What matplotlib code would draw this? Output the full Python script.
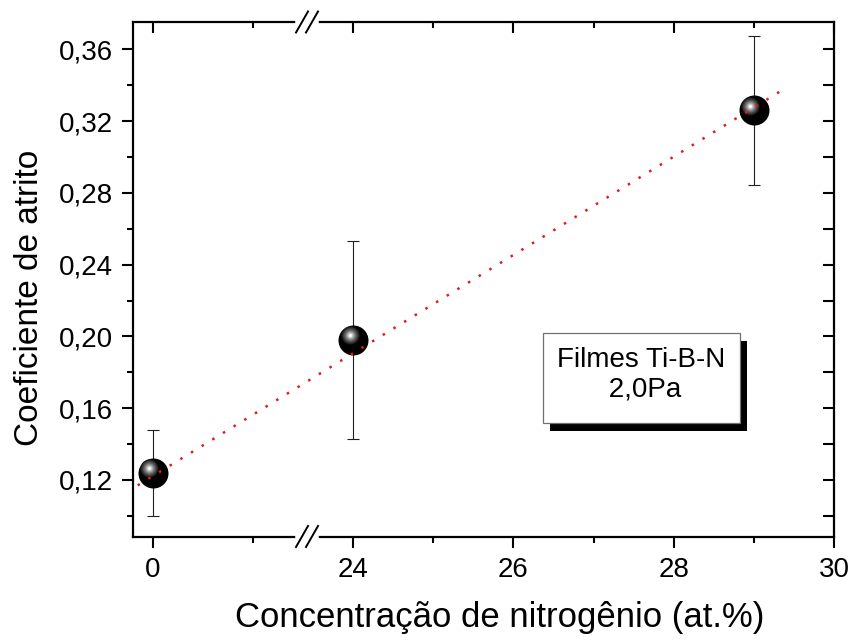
import numpy as np
import matplotlib
matplotlib.use("Agg")
import matplotlib.pyplot as plt
from matplotlib import transforms
from matplotlib.patches import Rectangle
import matplotlib.patheffects as pe

# ---- data ----
conc = [0, 24, 29]
coef = [0.124, 0.198, 0.326]
coef_err = [0.024, 0.055, 0.0415]
fit_x = [-0.15, 29.4]
fit_y = [0.117, 0.3385]

x_major = [0, 24, 26, 28, 30]
x_major_labels = ["0", "24", "26", "28", "30"]
x_minor = [1, 25, 27, 29]
y_major = [0.12, 0.16, 0.20, 0.24, 0.28, 0.32, 0.36]
y_major_labels = ["0,12", "0,16", "0,20", "0,24", "0,28", "0,32", "0,36"]
y_minor = [0.10, 0.14, 0.18, 0.22, 0.26, 0.30, 0.34]

xlabel = "Concentração de nitrogênio (at.%)"
ylabel = "Coeficiente de atrito"
box_text = "Filmes Ti-B-N\n 2,0Pa"

plt.rcParams['font.family'] = ['Liberation Sans', 'DejaVu Sans']

# broken-axis scale (piecewise linear)
BX = [-100.0, 1.53, 23.56, 100.0]
BU = [-10000.0, 153.0, 164.8, 6280.0]
def fwd(x):
    return np.interp(np.asarray(x, float), BX, BU)
def inv(u):
    return np.interp(np.asarray(u, float), BU, BX)

W, H = 853.0, 640.0
L, R, T, B = 132.7, 834.0, 22.0, 536.5
fig = plt.figure(figsize=(8.53, 6.4), dpi=100)
ax = fig.add_axes([L / W, (H - B) / H, (R - L) / W, (B - T) / H])
ax.set_xscale('function', functions=(fwd, inv))
ax.set_xlim(-0.2, 30.0)
ax.set_ylim(0.0885, 0.3752)

# error bars
ax.errorbar(conc, coef, yerr=coef_err, fmt='none', ecolor='#202020',
            elinewidth=0.8, capsize=4, capthick=0.8, zorder=3)
# spheres
ax.scatter(conc, coef, s=(30 * 0.72) ** 2, color='black', zorder=4, linewidths=0)
hl = transforms.offset_copy(ax.transData, fig=fig, x=-3.5, y=4.5, units='dots')
for d, c in [(18, '#1e1e1e'), (16, '#333333'), (14, '#4a4a4a'), (12, '#636363'),
             (10, '#7e7e7e'), (8, '#9c9c9c'), (6, '#bdbdbd'), (4, '#e0e0e0'),
             (2.5, '#ffffff')]:
    ax.scatter(conc, coef, s=(d * 0.72) ** 2, color=c, zorder=5, linewidths=0,
               transform=hl)
# fit line
ax.plot(fit_x, fit_y, color='#e41a1a', lw=1.8, linestyle=(0, (1, 4)), zorder=6)

# ticks
ax.set_xticks(x_major)
ax.set_xticklabels(x_major_labels)
ax.set_xticks(x_minor, minor=True)
ax.set_yticks(y_major)
ax.set_yticklabels(y_major_labels)
ax.set_yticks(y_minor, minor=True)
ax.tick_params(which='both', direction='out', width=1.5, labelsize=20,
               top=False, right=False)
ax.tick_params(which='major', length=8)
ax.tick_params(which='minor', length=4.5)
ax.tick_params(axis='x', which='both', pad=6.5)
ax.tick_params(axis='y', which='both', pad=6)
for s in ax.spines.values():
    s.set_linewidth(1.6)

ax.set_xlabel(xlabel, fontsize=25, labelpad=13, x=(500 - L) / (R - L))
ax.set_ylabel(ylabel, fontsize=24, labelpad=10, y=(B - 297.5) / (B - T))

# top ticks (inward)
axt = ax.twiny()
axt.set_xscale('function', functions=(fwd, inv))
axt.set_xlim(ax.get_xlim())
axt.set_xticks(x_major)
axt.set_xticks(x_minor, minor=True)
axt.tick_params(which='both', direction='in', width=1.5, labeltop=False)
axt.tick_params(which='major', length=8)
axt.tick_params(which='minor', length=4.5)
for s in axt.spines.values():
    s.set_visible(False)

# right ticks (inward)
axr = ax.twinx()
axr.set_ylim(ax.get_ylim())
axr.set_yticks(y_major)
axr.set_yticks(y_minor, minor=True)
axr.tick_params(which='both', direction='in', width=1.5, labelright=False)
axr.tick_params(which='both', length=8)
for s in axr.spines.values():
    s.set_visible(False)

# break marks
aw, ah = R - L, B - T
xc = (307 - L) / aw
for yy in (0.0, 1.0):
    ax.plot([xc - 9.5 / aw, xc + 9.5 / aw], [yy, yy], color='white', lw=4,
            transform=ax.transAxes, clip_on=False, zorder=20)
    for dx in (-5.0, 5.0):
        ax.plot([xc + (dx - 6) / aw, xc + (dx + 6) / aw],
                [yy - 10.5 / ah, yy + 10.5 / ah],
                color='black', lw=1.4, transform=ax.transAxes, clip_on=False,
                zorder=21)

# text box with shadow
bx0, bx1, by0, by1 = 542.7, 740.0, 333.3, 423.3
rect = Rectangle(((bx0 - L) / aw, (B - by1) / ah), (bx1 - bx0) / aw, (by1 - by0) / ah,
                 transform=ax.transAxes, facecolor='white', edgecolor='#707070',
                 lw=0.9, zorder=7)
rect.set_path_effects([pe.SimplePatchShadow(offset=(5.2, -5.2), shadow_rgbFace='black',
                                            alpha=1.0),
                       pe.Normal()])
ax.add_patch(rect)
ax.text(((bx0 + bx1) / 2 - L) / aw, (B - 374.5) / ah, box_text, transform=ax.transAxes,
        ha='center', va='center', multialignment='center', fontsize=20,
        linespacing=1.15, zorder=8)

fig.savefig('out.png', dpi=100)
